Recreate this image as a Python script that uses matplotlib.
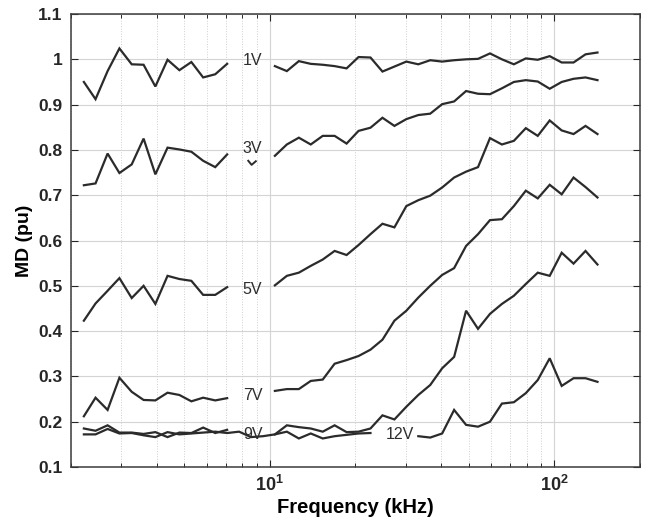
import numpy as np
import matplotlib
matplotlib.use('Agg')
import matplotlib.pyplot as plt
from matplotlib.ticker import FixedLocator, NullFormatter

plt.rcParams['font.family'] = ['Liberation Sans', 'DejaVu Sans']
plt.rcParams['mathtext.fontset'] = 'custom'
plt.rcParams['mathtext.rm'] = 'Liberation Sans'
plt.rcParams['mathtext.bf'] = 'Liberation Sans:bold'

nan = np.nan

# frequency points (kHz)
freq = [2.22, 2.44, 2.69, 2.96, 3.27, 3.60, 3.96, 4.37, 4.81, 5.30,
        5.83, 6.43, 7.08, 7.80, 8.59, 9.46, 10.42, 11.48, 12.65, 13.93,
        15.35, 16.90, 18.62, 20.51, 22.59, 24.89, 27.42, 30.20, 33.27, 36.64,
        40.36, 44.46, 48.98, 53.95, 59.43, 65.46, 72.11, 79.43, 87.50, 96.38,
        106.2, 116.9, 128.8, 141.9]

# MD values, NaN where the contour label breaks the line
md_1v = [0.950, 0.912, 0.974, 1.024, 0.989, 0.988, 0.940, 0.999, 0.976, 0.994,
         0.960, 0.967, 0.990, nan, nan, nan, 0.985, 0.974, 0.996, 0.990,
         0.988, 0.985, 0.980, 1.005, 1.004, 0.973, 0.984, 0.995, 0.989, 0.998,
         0.995, 0.998, 1.000, 1.001, 1.013, 1.000, 0.989, 1.002, 0.999, 1.007,
         0.993, 0.993, 1.011, 1.015]
md_3v = [0.722, 0.726, 0.792, 0.749, 0.768, 0.825, 0.746, 0.805, 0.801, 0.796,
         0.776, 0.762, 0.790, nan, nan, nan, 0.787, 0.812, 0.827, 0.812,
         0.831, 0.831, 0.814, 0.842, 0.849, 0.871, 0.853, 0.868, 0.877, 0.880,
         0.901, 0.907, 0.930, 0.924, 0.923, 0.936, 0.950, 0.954, 0.951, 0.935,
         0.950, 0.957, 0.960, 0.954]
md_5v = [0.423, 0.461, 0.489, 0.517, 0.473, 0.500, 0.460, 0.522, 0.515, 0.511,
         0.480, 0.480, 0.497, nan, nan, nan, 0.501, 0.522, 0.529, 0.544,
         0.558, 0.577, 0.568, 0.590, 0.614, 0.637, 0.629, 0.676, 0.689, 0.699,
         0.717, 0.739, 0.752, 0.762, 0.826, 0.812, 0.820, 0.848, 0.831, 0.865,
         0.843, 0.835, 0.853, 0.835]
md_7v = [0.212, 0.253, 0.226, 0.297, 0.266, 0.248, 0.247, 0.264, 0.259, 0.245,
         0.253, 0.247, 0.252, nan, nan, nan, 0.268, 0.272, 0.272, 0.290,
         0.293, 0.328, 0.336, 0.345, 0.359, 0.381, 0.423, 0.445, 0.474, 0.500,
         0.524, 0.539, 0.588, 0.614, 0.645, 0.647, 0.676, 0.710, 0.693, 0.723,
         0.702, 0.739, 0.718, 0.695]
md_9v = [0.185, 0.180, 0.192, 0.176, 0.176, 0.173, 0.177, 0.166, 0.176, 0.175,
         0.187, 0.175, 0.182, nan, nan, nan, 0.172, 0.192, 0.188, 0.185,
         0.178, 0.192, 0.177, 0.178, 0.185, 0.214, 0.205, 0.233, 0.259, 0.281,
         0.318, 0.343, 0.445, 0.405, 0.438, 0.460, 0.478, 0.504, 0.529, 0.522,
         0.573, 0.549, 0.577, 0.547]
md_12v = [0.172, 0.172, 0.184, 0.174, 0.175, 0.170, 0.166, 0.177, 0.172, 0.174,
          0.176, 0.178, 0.175, 0.178, 0.166, 0.168, 0.172, 0.178, 0.163, 0.174,
          0.163, 0.168, 0.171, 0.174, 0.175, nan, nan, nan, 0.168, 0.165,
          0.174, 0.226, 0.193, 0.189, 0.200, 0.240, 0.243, 0.263, 0.292, 0.340,
          0.279, 0.296, 0.296, 0.288]

# small leftover piece of the 3V contour under its label
frag_freq = [8.40, 8.63, 8.93]
frag_3v = [0.776, 0.767, 0.775]

series = [md_1v, md_3v, md_5v, md_7v, md_9v, md_12v]
labels = ['1V', '3V', '5V', '7V', '9V', '12V']
label_x = [8.69, 8.69, 8.69, 8.69, 8.75, 28.6]
label_y = [0.998, 0.804, 0.491, 0.257, 0.171, 0.172]

line_col = '#2b2b2b'

fig = plt.figure(figsize=(6.47, 5.29), dpi=100)
ax = fig.add_axes([0.1097, 0.1172, 0.8793, 0.8563])

for md in series:
    ax.plot(freq, md, color=line_col, lw=1.6, solid_joinstyle='miter')
ax.plot(frag_freq, frag_3v, color=line_col, lw=1.4)

for lab, lx, ly in zip(labels, label_x, label_y):
    ax.text(lx, ly, lab, ha='center', va='center', fontsize=11.5, color='#2e2e2e')

ax.set_xscale('log')
ax.set_xlim(2, 200)
ax.set_ylim(0.1, 1.1)

yt = [0.1, 0.2, 0.3, 0.4, 0.5, 0.6, 0.7, 0.8, 0.9, 1.0, 1.1]
ax.set_yticks(yt)
ax.set_yticklabels([f'{v:g}' for v in yt], fontweight='bold', fontsize=12.5)
ax.set_xticks([10, 100])
ax.set_xticklabels([r'$\mathbf{10^{1}}$', r'$\mathbf{10^{2}}$'], fontsize=13)
ax.xaxis.set_minor_locator(FixedLocator([2, 3, 4, 5, 6, 7, 8, 9, 20, 30, 40, 50, 60, 70, 80, 90, 200]))
ax.xaxis.set_minor_formatter(NullFormatter())

ax.tick_params(which='both', direction='in', top=True, right=True, colors='#262626')
ax.tick_params(which='major', length=5, width=0.8, pad=6)
ax.tick_params(which='minor', length=3, width=0.7)

ax.grid(True, which='major', color='#d4d4d4', lw=0.8)
ax.grid(True, which='minor', axis='x', color='#cfcfcf', lw=0.7, ls=':')
ax.set_axisbelow(True)

for sp in ax.spines.values():
    sp.set_color('#3c3c3c')
    sp.set_linewidth(1.1)

ax.set_xlabel('Frequency (kHz)', fontsize=14.5, fontweight='bold', labelpad=2)
ax.set_ylabel('MD (pu)', fontsize=14, fontweight='bold', labelpad=4)

fig.savefig('out.png', dpi=100, facecolor='white')
